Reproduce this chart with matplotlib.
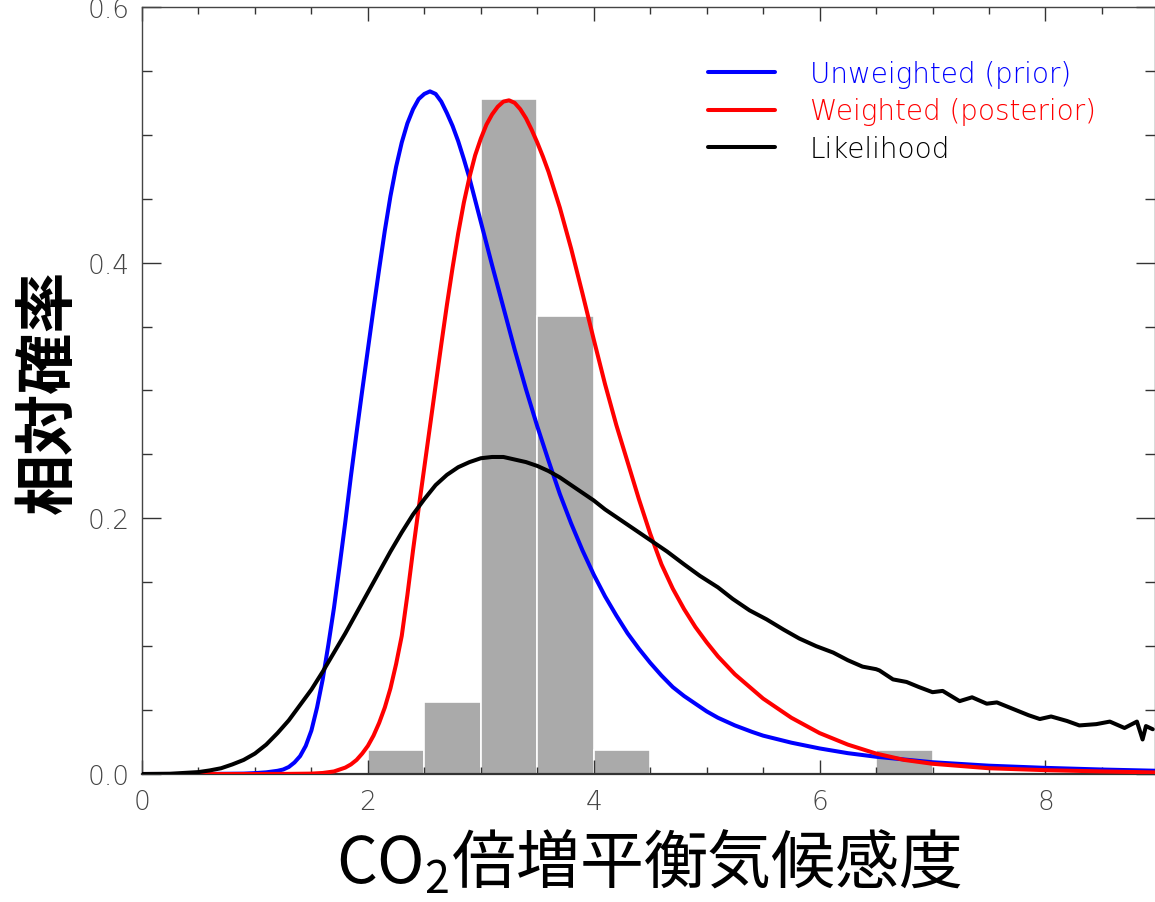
import numpy as np
import matplotlib.pyplot as plt
from matplotlib.ticker import MultipleLocator

plt.rcParams['font.family'] = ['DejaVu Sans']
plt.rcParams['mathtext.fontset'] = 'custom'
plt.rcParams['mathtext.rm'] = 'Noto Sans CJK JP'

# climate sensitivity axis (K) and the three distributions
x_prior = [0.0, 0.5, 0.9, 1.0, 1.1, 1.2, 1.25, 1.3, 1.35, 1.4, 1.45, 1.5, 1.55,
           1.6, 1.65, 1.7, 1.75, 1.8, 1.85, 1.9, 1.95, 2.0, 2.05, 2.1, 2.15, 2.2,
           2.25, 2.3, 2.35, 2.4, 2.45, 2.5, 2.55, 2.6, 2.65, 2.7, 2.75, 2.8, 2.85,
           2.9, 2.95, 3.0, 3.1, 3.2, 3.3, 3.4, 3.5, 3.6, 3.7, 3.8, 3.9, 4.0, 4.1,
           4.2, 4.3, 4.4, 4.5, 4.6, 4.7, 4.8, 4.9, 5.0, 5.1, 5.25, 5.4, 5.5, 5.75,
           6.0, 6.25, 6.5, 7.0, 7.5, 8.0, 8.5, 9.0]
y_prior = [0.0, 0.0, 0.0003, 0.0007, 0.0013, 0.0025, 0.0035, 0.0055, 0.009, 0.014,
           0.022, 0.034, 0.052, 0.074, 0.101, 0.130, 0.163, 0.197, 0.233, 0.267,
           0.300, 0.332, 0.364, 0.395, 0.425, 0.452, 0.475, 0.494, 0.509, 0.520,
           0.528, 0.532, 0.534, 0.532, 0.526, 0.517, 0.507, 0.495, 0.481, 0.466,
           0.449, 0.432, 0.398, 0.365, 0.332, 0.301, 0.272, 0.245, 0.219, 0.196,
           0.175, 0.156, 0.139, 0.124, 0.110, 0.098, 0.087, 0.077, 0.068, 0.061,
           0.055, 0.049, 0.044, 0.038, 0.033, 0.030, 0.0245, 0.020, 0.0163,
           0.0135, 0.0092, 0.0065, 0.0048, 0.0035, 0.0025]

x_post = [0.0, 1.0, 1.3, 1.5, 1.6, 1.7, 1.8, 1.85, 1.9, 1.95, 2.0, 2.05, 2.1,
          2.15, 2.2, 2.25, 2.3, 2.35, 2.4, 2.45, 2.5, 2.55, 2.6, 2.65, 2.7, 2.75,
          2.8, 2.85, 2.9, 2.95, 3.0, 3.05, 3.1, 3.15, 3.2, 3.25, 3.3, 3.35, 3.4,
          3.45, 3.5, 3.55, 3.6, 3.7, 3.8, 3.9, 4.0, 4.1, 4.2, 4.3, 4.4, 4.5, 4.6,
          4.7, 4.8, 4.9, 5.0, 5.1, 5.25, 5.5, 5.75, 6.0, 6.25, 6.5, 6.75, 7.0, 7.5,
          8.0, 8.5, 9.0]
y_post = [0.0, 0.0, 0.0001, 0.0003, 0.0008, 0.002, 0.005, 0.0075, 0.011, 0.016,
          0.022, 0.030, 0.040, 0.052, 0.067, 0.086, 0.108, 0.140, 0.175, 0.208,
          0.240, 0.272, 0.304, 0.336, 0.367, 0.396, 0.423, 0.447, 0.467, 0.484,
          0.497, 0.508, 0.516, 0.522, 0.526, 0.527, 0.525, 0.520, 0.513, 0.504,
          0.494, 0.483, 0.471, 0.443, 0.411, 0.376, 0.340, 0.305, 0.273, 0.244,
          0.215, 0.188, 0.164, 0.145, 0.129, 0.115, 0.103, 0.092, 0.078, 0.059,
          0.044, 0.032, 0.023, 0.016, 0.011, 0.008, 0.0045, 0.003, 0.002, 0.0012]

x_like = [0.0, 0.25, 0.5, 0.6, 0.7, 0.8, 0.9, 1.0, 1.1, 1.2, 1.3, 1.4, 1.5, 1.6,
          1.7, 1.8, 1.9, 2.0, 2.1, 2.2, 2.3, 2.4, 2.5, 2.6, 2.7, 2.8, 2.9, 3.0,
          3.1, 3.2, 3.3, 3.4, 3.5, 3.6, 3.7, 3.8, 3.9, 4.0, 4.1, 4.25, 4.4, 4.5,
          4.65, 4.8, 4.94, 5.1, 5.23, 5.38, 5.53, 5.68, 5.82, 5.97, 6.12, 6.25,
          6.38, 6.5, 6.53, 6.65, 6.77, 6.88, 7.0, 7.09, 7.24, 7.35, 7.48, 7.57,
          7.71, 7.85, 7.95, 8.05, 8.19, 8.3, 8.45, 8.57, 8.7, 8.81, 8.86, 8.89,
          8.95]
y_like = [0.0, 0.0002, 0.0015, 0.0028, 0.0045, 0.0075, 0.011, 0.016, 0.023, 0.032,
          0.042, 0.054, 0.066, 0.080, 0.095, 0.110, 0.126, 0.142, 0.158, 0.174,
          0.189, 0.203, 0.215, 0.226, 0.234, 0.240, 0.244, 0.247, 0.248, 0.248,
          0.246, 0.244, 0.241, 0.237, 0.232, 0.226, 0.220, 0.214, 0.207, 0.198,
          0.189, 0.183, 0.174, 0.164, 0.155, 0.146, 0.137, 0.128, 0.121, 0.113,
          0.106, 0.100, 0.095, 0.089, 0.084, 0.082, 0.081, 0.074, 0.072, 0.068,
          0.064, 0.065, 0.057, 0.060, 0.055, 0.056, 0.051, 0.046, 0.043, 0.045,
          0.0415, 0.038, 0.039, 0.041, 0.036, 0.041, 0.027, 0.0375, 0.035]

# model histogram, bins of 0.5 K
bin_left = [2.0, 2.5, 3.0, 3.5, 4.0, 4.5, 5.0, 5.5, 6.0, 6.5]
bin_count = [1, 3, 28, 19, 1, 0, 0, 0, 0, 1]

fig = plt.figure(figsize=(11.55, 9.03), dpi=100)
ax = fig.add_axes([142/1155, 128/903, 1013/1155, 767/903])

heights = np.array(bin_count) / sum(bin_count)
ax.bar(bin_left, heights, width=0.5, align='edge', color='#aaaaaa',
       edgecolor='white', linewidth=1.2, zorder=1)

line_kw = dict(lw=2.9, solid_joinstyle='round', solid_capstyle='round')
ax.plot(x_prior, y_prior, color='blue', label='Unweighted (prior)', zorder=3, **line_kw)
ax.plot(x_post, y_post, color='red', label='Weighted (posterior)', zorder=3, **line_kw)
ax.plot(x_like, y_like, color='black', label='Likelihood', zorder=4, **line_kw)

ax.set_xlim(0, 8.97)
ax.set_ylim(0, 0.6)
ax.xaxis.set_major_locator(MultipleLocator(2))
ax.xaxis.set_minor_locator(MultipleLocator(0.5))
ax.yaxis.set_major_locator(MultipleLocator(0.2))
ax.yaxis.set_minor_locator(MultipleLocator(0.05))
ax.yaxis.set_major_formatter(lambda v, p: '%.1f' % v)

ax.tick_params(which='both', direction='in', top=True, right=True,
               colors='#333333', labelcolor='#444444', labelsize=19, width=1)
ax.tick_params(axis='x', which='major', length=10, pad=11)
ax.tick_params(axis='x', which='minor', length=5)
ax.tick_params(axis='y', which='major', length=14, pad=9)
ax.tick_params(axis='y', which='minor', length=7)
for lab in ax.get_xticklabels() + ax.get_yticklabels():
    lab.set_fontweight('light')

for s in ['left', 'top', 'right']:
    ax.spines[s].set_color('#444444')
    ax.spines[s].set_linewidth(1)
ax.spines['bottom'].set_color('#333333')
ax.spines['bottom'].set_linewidth(1.6)

ax.set_ylabel('相対確率', family=['Noto Sans CJK JP', 'DejaVu Sans'],
              fontsize=44, fontweight='bold')
ax.yaxis.set_label_coords(-0.061, 0.5)
ax.set_xlabel('CO$_2$倍増平衡気候感度', family=['Noto Sans CJK JP', 'DejaVu Sans'],
              fontsize=46)
ax.xaxis.set_label_coords(0.5, -0.072)

leg = ax.legend(loc='upper left', bbox_to_anchor=(0.559, 0.931), frameon=False,
                handlelength=2.4, handletextpad=1.26,
                labelspacing=0.34, borderpad=0, borderaxespad=0,
                labelcolor='linecolor', prop={'weight': 'light', 'size': 20})

fig.savefig('out.png', dpi=100)
